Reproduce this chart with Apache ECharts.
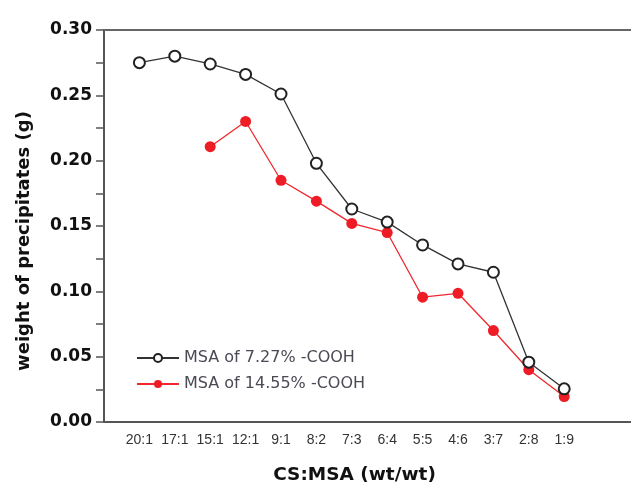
<!DOCTYPE html>
<html>
<head>
<meta charset="utf-8">
<script src="https://cdn.jsdelivr.net/npm/echarts@6/dist/echarts.min.js"></script>
<style>
  html, body { margin: 0; padding: 0; background: #fff; }
  #chart { width: 631px; height: 485px; }
</style>
</head>
<body>
<div id="chart"></div>
<script>
// ratios on the x axis
var ratios = ["20:1", "17:1", "15:1", "12:1", "9:1", "8:2", "7:3", "6:4", "5:5", "4:6", "3:7", "2:8", "1:9"];
// weight of precipitates (g)
var msa727 = [0.275, 0.280, 0.274, 0.266, 0.251, 0.198, 0.163, 0.153, 0.1355, 0.121, 0.1146, 0.0458, 0.0254];
var msa1455 = [null, null, 0.2107, 0.230, 0.185, 0.169, 0.152, 0.145, 0.0955, 0.0985, 0.070, 0.040, 0.0195];
var yTicks = [0, 0.05, 0.10, 0.15, 0.20, 0.25, 0.30];

function pairs(arr) {
  var out = [];
  for (var i = 0; i < arr.length; i++) {
    if (arr[i] != null) out.push([i, arr[i]]);
  }
  return out;
}

var myChart = echarts.init(document.getElementById("chart"));
var option = {
  animation: false,
  grid: { left: 104, width: 531, top: 30, bottom: 63, outerBoundsMode: "none" },
  legend: {
    orient: "vertical",
    left: 131,
    top: 345,
    itemWidth: 42,
    itemHeight: 10,
    itemGap: 10,
    textStyle: { fontFamily: "DejaVu Sans", fontSize: 16, color: "#4a4a55" },
    data: ["MSA of 7.27% -COOH", "MSA of 14.55% -COOH"]
  },
  xAxis: [
    {
      type: "value",
      min: -1,
      max: 14,
      interval: 1,
      position: "bottom",
      name: "CS:MSA (wt/wt)",
      nameLocation: "middle",
      nameGap: 44,
      nameTextStyle: { fontFamily: "DejaVu Sans", fontWeight: "bold", fontSize: 18.5, color: "#111", padding: [0, 30, 0, 0] },
      axisLine: { onZero: false, lineStyle: { color: "#555", width: 2 } },
      axisTick: { show: false },
      splitLine: { show: false },
      axisLabel: {
        fontFamily: "Liberation Sans, Arial",
        fontSize: 14,
        color: "#333",
        margin: 11,
        formatter: function (v) {
          var i = Math.round(v);
          return ratios[i] !== undefined && Math.abs(v - i) < 0.01 ? ratios[i] : "";
        }
      }
    },
    {
      type: "value",
      min: -1,
      max: 14,
      position: "top",
      axisLine: { onZero: false, lineStyle: { color: "#666", width: 2 } },
      axisTick: { show: false },
      axisLabel: { show: false },
      splitLine: { show: false }
    }
  ],
  yAxis: {
    type: "value",
    min: 0,
    max: 0.3,
    interval: 0.05,
    name: "weight of precipitates (g)",
    nameLocation: "middle",
    nameGap: 71,
    nameTextStyle: { fontFamily: "DejaVu Sans", fontWeight: "bold", fontSize: 18, color: "#111", padding: [0, 30, 0, 0] },
    axisLine: { show: true, onZero: false, lineStyle: { color: "#555", width: 2 } },
    axisTick: { show: true, inside: false, length: 8, lineStyle: { color: "#555", width: 1.5 } },
    minorTick: { show: true, splitNumber: 2, length: 8, lineStyle: { color: "#555", width: 1.5 } },
    splitLine: { show: false },
    axisLabel: {
      fontFamily: "DejaVu Sans",
      fontWeight: "bold",
      fontSize: 17,
      color: "#111",
      margin: 12,
      formatter: function (v) {
        for (var k = 0; k < yTicks.length; k++) {
          if (Math.abs(yTicks[k] - v) < 1e-6) return yTicks[k].toFixed(2);
        }
        return "";
      }
    }
  },
  series: [
    {
      name: "MSA of 7.27% -COOH",
      type: "line",
      data: pairs(msa727),
      symbol: "emptyCircle",
      symbolSize: 11,
      lineStyle: { color: "#333", width: 1.3 },
      itemStyle: { color: "#222", borderWidth: 1.5 },
      z: 3
    },
    {
      name: "MSA of 14.55% -COOH",
      type: "line",
      data: pairs(msa1455),
      symbol: "circle",
      symbolSize: 11,
      lineStyle: { color: "#f0282d", width: 1.3 },
      itemStyle: { color: "#ee1c24" },
      z: 2
    }
  ]
};
myChart.setOption(option);
</script>
</body>
</html>
